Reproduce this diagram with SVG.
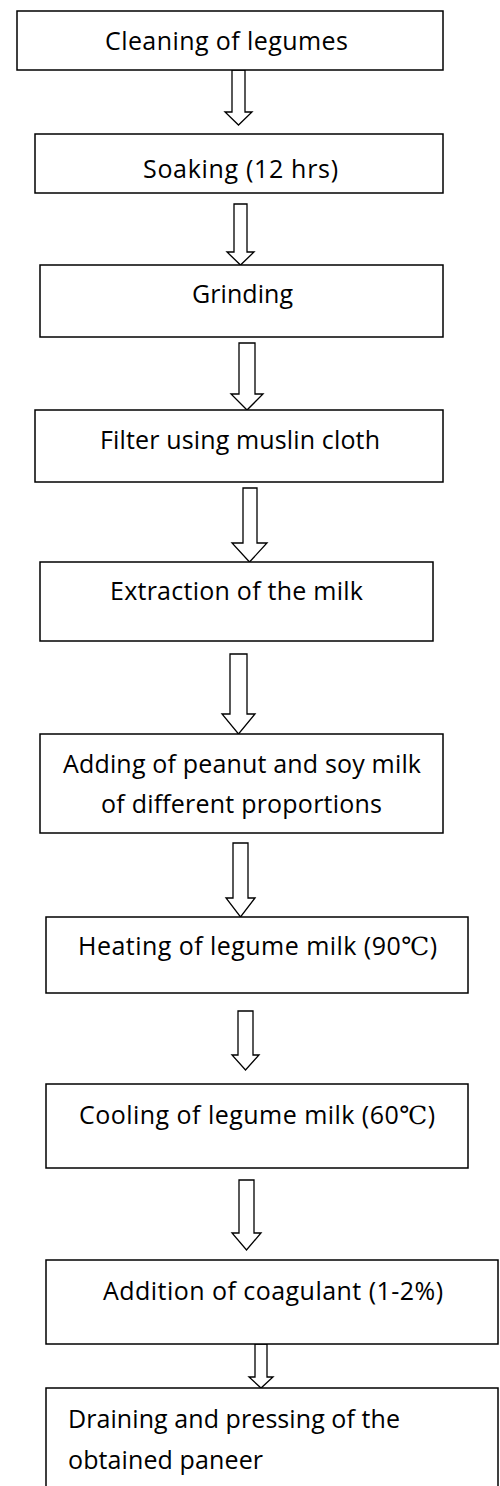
<svg xmlns="http://www.w3.org/2000/svg" width="500" height="1486" viewBox="0 0 500 1486">
<style>
.box{fill:#fff;stroke:#000;stroke-width:1.5}
.arr{fill:#fff;stroke:#000;stroke-width:1.3;stroke-linejoin:miter}
.t{font-family:"Open Sans","Liberation Sans",sans-serif;font-size:25px;fill:#000}
.deg{font-family:"DejaVu Serif","Liberation Serif",serif}
</style>
<rect width="500" height="1486" fill="#fff"/>
<g id="connectors">
<polygon class="arr" points="232,70 232,112 225,112 238.5,125 252,112 245,112 245,70"/>
<polygon class="arr" points="234,204 234,252 227,252 240.5,265 254,252 247,252 247,204"/>
<polygon class="arr" points="239,343 239,394 231,394 247,410 263,394 255,394 255,343"/>
<polygon class="arr" points="243,488 243,543 232,543 249.5,562 267,543 257,543 257,488"/>
<polygon class="arr" points="230,654 230,714 222,714 238.5,734 255,714 247,714 247,654"/>
<polygon class="arr" points="233,843 233,898 226,898 240.5,917 255,898 248,898 248,843"/>
<polygon class="arr" points="238,1011 238,1055 232,1055 245.5,1070 259,1055 253,1055 253,1011"/>
<polygon class="arr" points="239,1180 239,1233 232,1233 246.5,1250 261,1233 254,1233 254,1180"/>
<polygon class="arr" points="255,1344 255,1377 249,1377 261,1388 273,1377 267,1377 267,1344"/>
</g>
<g id="n1"><rect class="box" x="17" y="11" width="426" height="59"/><text class="t" x="105" y="50" textLength="243" lengthAdjust="spacing">Cleaning of legumes</text></g>
<g id="n2"><rect class="box" x="35" y="134" width="408" height="59"/><text class="t" x="143" y="178" textLength="195" lengthAdjust="spacing">Soaking (12 hrs)</text></g>
<g id="n3"><rect class="box" x="40" y="265" width="403" height="72"/><text class="t" x="192" y="303" textLength="101" lengthAdjust="spacing">Grinding</text></g>
<g id="n4"><rect class="box" x="35" y="410" width="408" height="72"/><text class="t" x="100" y="449" textLength="280" lengthAdjust="spacing">Filter using muslin cloth</text></g>
<g id="n5"><rect class="box" x="40" y="562" width="393" height="79"/><text class="t" x="110" y="600" textLength="253" lengthAdjust="spacing">Extraction of the milk</text></g>
<g id="n6"><rect class="box" x="40" y="734" width="403" height="99"/><text class="t" x="63" y="773" textLength="358" lengthAdjust="spacing">Adding of peanut and soy milk</text><text class="t" x="101" y="813" textLength="281" lengthAdjust="spacing">of different proportions</text></g>
<g id="n7"><rect class="box" x="46" y="917" width="422" height="76"/><text class="t" x="78" y="955" textLength="359" lengthAdjust="spacing">Heating of legume milk (90<tspan class="deg">℃</tspan>)</text></g>
<g id="n8"><rect class="box" x="46" y="1084" width="422" height="84"/><text class="t" x="79" y="1124" textLength="356" lengthAdjust="spacing">Cooling of legume milk (60<tspan class="deg">℃</tspan>)</text></g>
<g id="n9"><rect class="box" x="46" y="1260" width="452" height="84"/><text class="t" x="103" y="1300" textLength="340" lengthAdjust="spacing">Addition of coagulant (1-2%)</text></g>
<g id="n10"><rect class="box" x="46" y="1388" width="452" height="110"/><text class="t" x="68" y="1428" textLength="332" lengthAdjust="spacing">Draining and pressing of the</text><text class="t" x="68" y="1469" textLength="195" lengthAdjust="spacing">obtained paneer</text></g>
</svg>
